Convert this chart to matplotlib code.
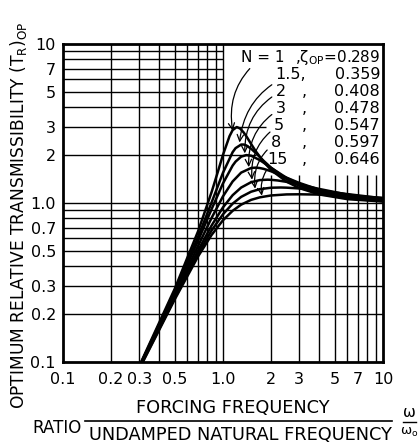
import matplotlib.pyplot as plt
from matplotlib.ticker import NullLocator

# frequency ratio / optimum relative transmissibility, one pair per curve
ratio_n1 = [0.3, 0.5, 0.7, 0.85, 0.93, 1.0, 1.1, 1.15, 1.22, 1.28, 1.35, 1.4, 1.5, 1.6, 1.8, 2.0, 2.5, 3.0, 4.0, 6.0, 10.0]
trans_n1 = [0.094, 0.288, 0.664, 1.17, 1.57, 2.00, 2.63, 2.87, 3.00, 2.94, 2.77, 2.63, 2.35, 2.12, 1.81, 1.61, 1.36, 1.24, 1.13, 1.056, 1.02]

ratio_n15 = [0.3, 0.5, 0.7, 0.85, 1.0, 1.15, 1.2, 1.3, 1.35, 1.4, 1.5, 1.6, 1.8, 2.0, 2.5, 3.0, 4.0, 6.0, 10.0]
trans_n15 = [0.093, 0.278, 0.612, 1.007, 1.544, 2.085, 2.211, 2.329, 2.329, 2.300, 2.193, 2.066, 1.836, 1.665, 1.411, 1.281, 1.157, 1.069, 1.025]

ratio_n2 = [0.3, 0.5, 0.7, 0.85, 1.0, 1.15, 1.2, 1.3, 1.4, 1.5, 1.7, 1.8, 2.0, 2.5, 3.0, 4.0, 6.0, 10.0]
trans_n2 = [0.093, 0.272, 0.579, 0.914, 1.324, 1.717, 1.819, 1.954, 1.999, 1.981, 1.859, 1.789, 1.661, 1.438, 1.310, 1.179, 1.081, 1.030]

ratio_n3 = [0.3, 0.5, 0.7, 0.85, 1.0, 1.15, 1.3, 1.5, 1.6, 1.7, 1.8, 2.0, 2.5, 3.0, 4.0, 6.0, 10.0]
trans_n3 = [0.092, 0.264, 0.537, 0.805, 1.098, 1.364, 1.551, 1.658, 1.667, 1.657, 1.637, 1.581, 1.440, 1.336, 1.210, 1.102, 1.039]

ratio_n5 = [0.3, 0.5, 0.7, 0.85, 1.0, 1.15, 1.3, 1.5, 1.7, 1.9, 2.0, 2.2, 2.5, 3.0, 4.0, 6.0, 10.0]
trans_n5 = [0.091, 0.257, 0.503, 0.721, 0.936, 1.118, 1.249, 1.350, 1.392, 1.400, 1.397, 1.384, 1.357, 1.307, 1.224, 1.128, 1.054]

ratio_n8 = [0.3, 0.5, 0.7, 0.85, 1.0, 1.15, 1.3, 1.5, 1.7, 2.0, 2.3, 2.5, 3.0, 4.0, 6.0, 10.0]
trans_n8 = [0.091, 0.252, 0.481, 0.671, 0.847, 0.989, 1.091, 1.176, 1.220, 1.246, 1.250, 1.247, 1.233, 1.197, 1.136, 1.069]

ratio_n15b = [0.3, 0.5, 0.7, 0.85, 1.0, 1.15, 1.3, 1.5, 1.7, 2.0, 2.5, 3.0, 4.0, 6.0, 10.0]
trans_n15b = [0.090, 0.247, 0.461, 0.629, 0.777, 0.892, 0.975, 1.045, 1.084, 1.114, 1.131, 1.133, 1.128, 1.110, 1.076]

n_labels = ["N = 1", "1.5,", "2", "3", "5", "8", "15"]
zeta_labels = ["0.289", "0.359", "0.408", "0.478", "0.547", "0.597", "0.646"]
arrow_x = [1.15, 1.27, 1.37, 1.45, 1.52, 1.59, 1.75]
arrow_y = [2.85, 2.40, 2.05, 1.68, 1.40, 1.23, 1.11]

xtick_vals = [0.1, 0.2, 0.3, 0.5, 1.0, 2, 3, 5, 7, 10]
xtick_text = ["0.1", "0.2", "0.3", "0.5", "1.0", "2", "3", "5", "7", "10"]
ytick_vals = [0.1, 0.2, 0.3, 0.5, 0.7, 1.0, 2, 3, 5, 7, 10]
ytick_text = ["0.1", "0.2", "0.3", "0.5", "0.7", "1.0", "2", "3", "5", "7", "10"]

plt.rcParams['font.family'] = ['DejaVu Sans']

fig = plt.figure(figsize=(4.19, 4.44), dpi=100)
ax = fig.add_axes([0.150, 0.185, 0.764, 0.716])
ax.set_xscale('log')
ax.set_yscale('log')
ax.set_xlim(0.1, 10)
ax.set_ylim(0.1, 10)

# log paper grid, left open in the upper right for the labels
lw_grid = 1.0
ax.vlines([0.2, 0.3, 0.4, 0.5, 0.6, 0.7, 0.8, 0.9, 1.0], 0.1, 10, color='k', lw=lw_grid)
ax.vlines([2, 3, 4, 5, 6, 7, 8, 9], 0.1, 1.5, color='k', lw=lw_grid)
ax.hlines([0.2, 0.3, 0.4, 0.5, 0.6, 0.7, 0.8, 0.9, 1.0], 0.1, 10, color='k', lw=lw_grid)
ax.hlines([2], 0.1, 1.6, color='k', lw=lw_grid)
ax.hlines([3], 0.1, 1.85, color='k', lw=lw_grid)
ax.hlines([4, 5, 6, 7, 8, 9], 0.1, 1.0, color='k', lw=lw_grid)

curves = [(ratio_n1, trans_n1), (ratio_n15, trans_n15), (ratio_n2, trans_n2),
          (ratio_n3, trans_n3), (ratio_n5, trans_n5), (ratio_n8, trans_n8),
          (ratio_n15b, trans_n15b)]
for r, t in curves:
    ax.plot(r, t, color='k', lw=1.8)

# labels with leader arrows
rows_y = [0.958, 0.904, 0.851, 0.797, 0.744, 0.690, 0.637]
rows_x = [0.555, 0.665, 0.665, 0.665, 0.659, 0.650, 0.637]
for i in range(7):
    ax.annotate(n_labels[i], xy=(arrow_x[i], arrow_y[i]), xycoords='data',
                xytext=(rows_x[i], rows_y[i]), textcoords='axes fraction',
                ha='left', va='center', fontsize=11.5 if i else 11,
                arrowprops=dict(arrowstyle='->', lw=0.9, color='k',
                                connectionstyle='arc3,rad=0.3',
                                shrinkA=1, shrinkB=0))
    if i == 0:
        txt = ",ζ$_{\\rm OP}$=" + zeta_labels[i]
        fs = 11
    else:
        txt = zeta_labels[i]
        fs = 11.5
        if i > 1:
            ax.text(0.747, rows_y[i], ",", transform=ax.transAxes,
                    ha='left', va='center', fontsize=11.5)
    ax.text(0.991, rows_y[i], txt, transform=ax.transAxes,
            ha='right', va='center', fontsize=fs)

ax.set_xticks(xtick_vals)
ax.set_xticklabels(xtick_text)
ax.set_yticks(ytick_vals)
ax.set_yticklabels(ytick_text)
ax.xaxis.set_minor_locator(NullLocator())
ax.yaxis.set_minor_locator(NullLocator())
ax.tick_params(length=0, labelsize=11.5)
ax.tick_params(axis='x', pad=7)
ax.tick_params(axis='y', pad=5)
for s in ax.spines.values():
    s.set_linewidth(2)

fig.text(0.043, 0.516, "OPTIMUM RELATIVE TRANSMISSIBILITY (T$_{\\rm R}$)$_{\\rm OP}$",
         rotation=90, ha='center', va='center', fontsize=12.3)
fig.text(0.135, 0.036, "RATIO", ha='center', va='center', fontsize=12)
fig.text(0.556, 0.081, "FORCING FREQUENCY", ha='center', va='center', fontsize=12.8)
fig.text(0.573, 0.020, "UNDAMPED NATURAL FREQUENCY", ha='center', va='center', fontsize=12.8)
fig.add_artist(plt.Line2D([0.203, 0.936], [0.052, 0.052], color='k', lw=1.2))
fig.text(0.978, 0.070, "ω", ha='center', va='center', fontsize=11)
fig.add_artist(plt.Line2D([0.962, 0.994], [0.049, 0.049], color='k', lw=1.0))
fig.text(0.976, 0.026, "ω$_{\\rm o}$", ha='center', va='center', fontsize=9.5)

fig.savefig('out.png', dpi=100)
